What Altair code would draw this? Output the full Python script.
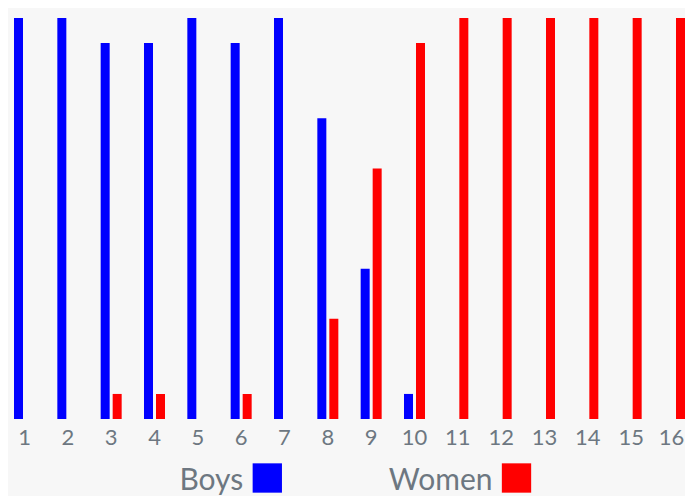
import altair as alt
import pandas as pd

groups = [str(i) for i in range(1, 17)]
boys = [16, 16, 15, 15, 16, 15, 16, 12, 6, 1, 0, 0, 0, 0, 0, 0]
women = [0, 0, 1, 1, 0, 1, 0, 4, 10, 15, 16, 16, 16, 16, 16, 16]
series = ["Boys", "Women"]
colors = ["#0000ff", "#ff0000"]

GRAY = "#6d7781"
BG = "#f7f7f7"

rows = []
for g, b, w in zip(groups, boys, women):
    rows.append({"group": g, "series": "Boys", "value": b})
    rows.append({"group": g, "series": "Women", "value": w})
df = pd.DataFrame(rows)

color_scale = alt.Scale(domain=series, range=colors)

bars = alt.Chart(df).mark_bar().encode(
    x=alt.X(
        "group:N",
        sort=groups,
        scale=alt.Scale(paddingInner=0.51538, paddingOuter=0.06923, align=1.0, round=False),
        axis=alt.Axis(title=None, labelAngle=0, ticks=False, domain=False, grid=False,
                      labelFont="Lato", labelFontSize=22, labelColor=GRAY, labelPadding=8,
                      labelOffset=alt.condition(f"datum.value == '{groups[-1]}'",
                                                alt.value(-3), alt.value(0))),
    ),
    xOffset=alt.XOffset("series:N", sort=series,
                        scale=alt.Scale(paddingInner=0.25, paddingOuter=0)),
    y=alt.Y("value:Q", scale=alt.Scale(domain=[0, 16], nice=False), axis=None),
    color=alt.Color("series:N", scale=color_scale, legend=None),
)

leg_df = pd.DataFrame({"series": series})
leg_x = alt.X("series:N", sort=series,
              scale=alt.Scale(type="point", range=[259.3, 508.5], padding=0), axis=None)
LEG_Y = 460
squares = alt.Chart(leg_df).mark_square(size=860, opacity=1).encode(
    x=leg_x, y=alt.value(LEG_Y),
    color=alt.Color("series:N", scale=color_scale, legend=None),
)
labels = alt.Chart(leg_df).mark_text(
    align="right", baseline="alphabetic", dx=-24, dy=11.5,
    font="Lato", fontSize=30, color=GRAY
).encode(x=leg_x, y=alt.value(LEG_Y), text="series:N")

chart = alt.layer(bars, squares, labels).resolve_scale(x="independent").properties(
    width=677,
    height=401,
    padding={"top": 10, "left": 0, "right": 0, "bottom": 77},
    autosize=alt.AutoSizeParams(type="none"),
    background=BG,
).configure_view(stroke=None)

chart.save("out.html", embed_options={"renderer": "svg", "actions": False})
